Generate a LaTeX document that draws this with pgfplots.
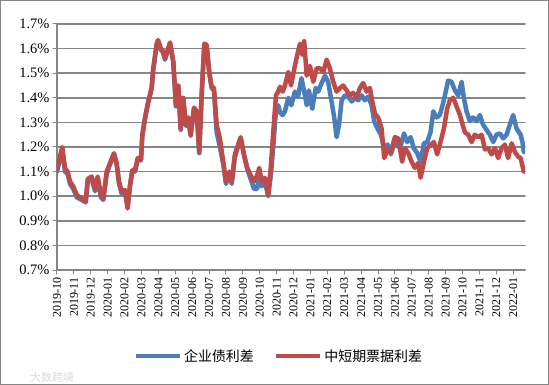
\documentclass[border=0pt]{standalone}
\usepackage{pgfplots}
\pgfplotsset{compat=1.18}
\usepackage{fontspec}
\setmainfont{Liberation Serif}
\newfontfamily\cjk{Noto Sans CJK SC}
\definecolor{serblue}{HTML}{4A7EBB}
\definecolor{serred}{HTML}{BE4B48}
\definecolor{gridgray}{HTML}{868686}
\begin{document}
\begin{tikzpicture}
\useasboundingbox (-57bp,-115bp) rectangle (492bp,270bp);
\begin{axis}[
 at={(0,0)}, anchor=south west,
 scale only axis, width=468bp, height=246bp,
 xmin=0, xmax=27.7, ymin=0.7, ymax=1.7,
 axis x line*=bottom, axis y line*=left,
 axis line style={gridgray, line width=1.2bp},
 every tick/.style={gridgray, line width=1bp},
 tick align=outside, major tick length=4bp,
 ymajorgrids, grid style={gridgray, line width=1.5bp},
 ytick={0.7,0.8,0.9,1.0,1.1,1.2,1.3,1.4,1.5,1.6,1.7},
 yticklabel={\pgfmathprintnumber[fixed,fixed zerofill,precision=1]{\tick}\%},
 /pgf/number format/assume math mode=true,
 y tick label style={font=\fontsize{14.5}{16}\selectfont},
 xtick={0,...,27},
 xticklabels={2019-10,2019-11,2019-12,2020-01,2020-02,2020-03,2020-04,2020-05,2020-06,2020-07,2020-08,2020-09,2020-10,2020-11,2020-12,2021-01,2021-02,2021-03,2021-04,2021-05,2021-06,2021-07,2021-08,2021-09,2021-10,2021-11,2021-12,2022-01},
 x tick label style={rotate=90, anchor=east, font=\fontsize{12}{13}\selectfont},
 legend style={at={(0.474,0)}, anchor=center, yshift=-86bp, draw=none, fill=none,
   font=\cjk\fontsize{14}{16}\selectfont, legend columns=2,
   /tikz/every even column/.append style={column sep=18bp}},
 legend image code/.code={\draw[#1, line width=4.5bp] (0bp,0bp) -- (44bp,0bp);},
 line join=round, line cap=round,
]
\addplot[serblue, line width=4.5bp] coordinates {
(0,1.10) (0.31,1.19) (0.47,1.10) (0.63,1.09) (0.77,1.05) (0.96,1.03) (1.17,0.995) (1.46,0.985) (1.70,0.975) (1.82,1.06) (2.05,1.07) (2.25,1.02) (2.41,1.07) (2.60,0.995) (2.74,0.985) (2.94,1.09) (3.14,1.13) (3.37,1.17) (3.53,1.13) (3.67,1.05) (3.83,1.01) (4.02,1.02) (4.18,0.96) (4.32,1.04) (4.46,1.10) (4.62,1.10) (4.78,1.15) (4.97,1.145) (5.05,1.245) (5.21,1.315) (5.40,1.38) (5.60,1.435) (5.70,1.515) (5.90,1.615) (5.98,1.63) (6.15,1.595) (6.27,1.585) (6.39,1.555) (6.69,1.62) (6.88,1.545) (7.04,1.365) (7.18,1.445) (7.32,1.27) (7.47,1.395) (7.63,1.285) (7.77,1.315) (7.91,1.245) (8.11,1.355) (8.27,1.34) (8.42,1.175) (8.56,1.405) (8.72,1.615) (8.86,1.61) (9.01,1.50) (9.15,1.44) (9.29,1.43) (9.45,1.26) (9.64,1.20) (9.84,1.13) (10.00,1.05) (10.20,1.09) (10.34,1.05) (10.53,1.16) (10.87,1.235) (11.07,1.165) (11.26,1.11) (11.46,1.07) (11.66,1.03) (11.85,1.03) (11.97,1.10) (12.11,1.04) (12.31,1.06) (12.50,1.00) (12.65,1.08) (12.80,1.20) (12.96,1.35) (13.09,1.37) (13.20,1.34) (13.36,1.33) (13.49,1.345) (13.69,1.40) (13.87,1.37) (14.08,1.425) (14.27,1.405) (14.47,1.48) (14.63,1.425) (14.78,1.37) (14.91,1.43) (15.11,1.355) (15.31,1.44) (15.46,1.425) (15.66,1.46) (15.86,1.49) (16.05,1.465) (16.25,1.385) (16.41,1.32) (16.55,1.24) (16.69,1.29) (16.85,1.39) (17.04,1.41) (17.24,1.405) (17.44,1.385) (17.63,1.40) (17.83,1.39) (18.03,1.41) (18.22,1.39) (18.42,1.405) (18.62,1.37) (18.77,1.305) (18.97,1.275) (19.17,1.25) (19.37,1.195) (19.57,1.21) (19.76,1.17) (20.00,1.22) (20.30,1.195) (20.54,1.255) (20.73,1.22) (20.93,1.24) (21.12,1.195) (21.32,1.175) (21.52,1.14) (21.72,1.215) (21.91,1.22) (22.11,1.26) (22.27,1.345) (22.47,1.32) (22.66,1.33) (22.82,1.37) (22.96,1.41) (23.15,1.47) (23.35,1.465) (23.55,1.43) (23.75,1.41) (23.95,1.465) (24.08,1.40) (24.24,1.345) (24.44,1.305) (24.63,1.32) (24.83,1.305) (25.03,1.33) (25.22,1.29) (25.42,1.27) (25.62,1.25) (25.82,1.22) (26.01,1.25) (26.21,1.255) (26.41,1.235) (26.61,1.25) (26.80,1.29) (27.00,1.33) (27.20,1.275) (27.44,1.25) (27.55,1.22) (27.63,1.18)
};
\addlegendentry{企业债利差}
\addplot[serred, line width=4.5bp] coordinates {
(0,1.11) (0.31,1.20) (0.47,1.115) (0.63,1.10) (0.77,1.06) (0.96,1.04) (1.17,1.005) (1.46,0.99) (1.70,0.98) (1.82,1.07) (2.05,1.08) (2.25,1.03) (2.41,1.08) (2.60,1.005) (2.74,0.99) (2.94,1.10) (3.14,1.135) (3.37,1.175) (3.53,1.135) (3.67,1.06) (3.83,1.02) (4.02,1.025) (4.18,0.95) (4.32,1.045) (4.46,1.107) (4.62,1.107) (4.78,1.155) (4.97,1.15) (5.05,1.25) (5.21,1.32) (5.40,1.385) (5.60,1.44) (5.70,1.52) (5.90,1.62) (5.98,1.635) (6.15,1.60) (6.27,1.59) (6.39,1.56) (6.69,1.625) (6.88,1.55) (7.04,1.37) (7.18,1.45) (7.32,1.275) (7.47,1.40) (7.63,1.29) (7.77,1.32) (7.91,1.25) (8.11,1.36) (8.27,1.345) (8.42,1.18) (8.56,1.41) (8.72,1.62) (8.86,1.615) (9.01,1.505) (9.15,1.445) (9.29,1.44) (9.45,1.29) (9.64,1.235) (9.84,1.14) (10.00,1.06) (10.20,1.10) (10.34,1.06) (10.53,1.17) (10.87,1.24) (11.07,1.17) (11.26,1.115) (11.46,1.085) (11.66,1.06) (11.85,1.085) (11.97,1.115) (12.11,1.06) (12.31,1.075) (12.50,1.005) (12.65,1.115) (12.80,1.26) (12.96,1.41) (13.09,1.425) (13.20,1.445) (13.36,1.425) (13.49,1.45) (13.69,1.505) (13.85,1.45) (14.08,1.53) (14.24,1.58) (14.38,1.62) (14.51,1.575) (14.63,1.63) (14.78,1.49) (14.97,1.53) (15.17,1.465) (15.37,1.52) (15.56,1.52) (15.76,1.505) (15.96,1.555) (16.15,1.52) (16.35,1.465) (16.55,1.425) (16.75,1.44) (16.94,1.45) (17.14,1.43) (17.34,1.41) (17.53,1.42) (17.73,1.40) (17.93,1.44) (18.12,1.46) (18.33,1.425) (18.52,1.44) (18.66,1.385) (18.82,1.335) (19.01,1.32) (19.21,1.275) (19.37,1.155) (19.57,1.19) (19.76,1.18) (20.00,1.24) (20.20,1.235) (20.43,1.14) (20.59,1.195) (20.79,1.175) (20.99,1.14) (21.18,1.115) (21.38,1.135) (21.52,1.075) (21.72,1.14) (21.91,1.195) (22.11,1.21) (22.31,1.22) (22.50,1.17) (22.70,1.22) (22.90,1.275) (23.09,1.355) (23.25,1.39) (23.45,1.40) (23.65,1.365) (23.85,1.33) (24.01,1.29) (24.14,1.26) (24.34,1.25) (24.54,1.22) (24.73,1.25) (24.93,1.24) (25.13,1.25) (25.33,1.19) (25.52,1.195) (25.72,1.17) (25.92,1.195) (26.11,1.155) (26.31,1.195) (26.51,1.21) (26.70,1.155) (26.91,1.215) (27.10,1.18) (27.30,1.16) (27.44,1.155) (27.63,1.10)
};
\addlegendentry{中短期票据利差}
\end{axis}
\draw[gridgray, line width=1bp] (-56.5bp,-114.5bp) rectangle (491.5bp,269.5bp);
\node[anchor=west, text=gray!30, font=\cjk\fontsize{11}{12}\selectfont, inner sep=0pt] at (-27bp,-107bp) {大数跨境};
\end{tikzpicture}
\end{document}
